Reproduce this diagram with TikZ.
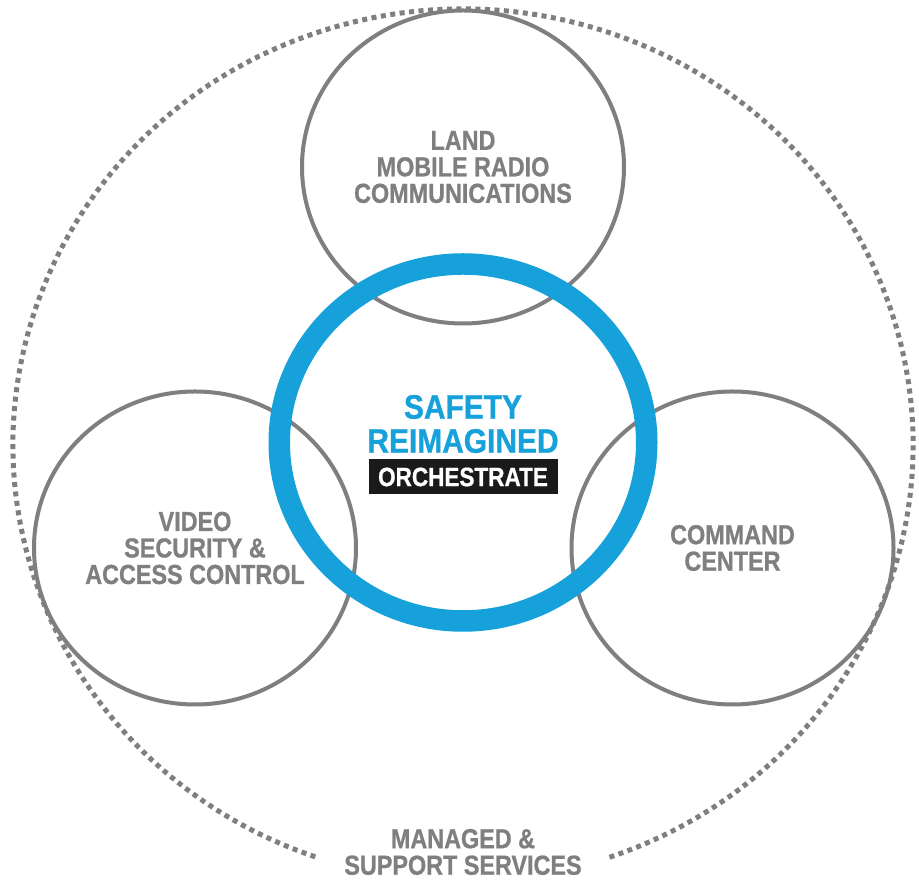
\documentclass[tikz,border=0pt]{standalone}
\usepackage{fontspec}
\newfontfamily\condfont[FakeStretch=0.85,FakeBold=0.8]{Liberation Sans}
\newfontfamily\bluefont[FakeStretch=0.88,FakeBold=0.8]{Liberation Sans}
\usetikzlibrary{shapes.geometric}
\definecolor{ringblue}{HTML}{17A1DB}
\definecolor{linegrey}{HTML}{7F7F7F}
\definecolor{boxblack}{HTML}{1A1A1A}
\begin{document}
\begin{tikzpicture}[x=1pt,y=1pt,
  area/.style={ellipse, draw=linegrey, line width=4pt, inner sep=0pt,
    minimum width=322pt, minimum height=313pt, text=linegrey,
    font=\condfont\bfseries\fontsize{27.5}{26.5}\selectfont, align=center},
  ringstyle/.style={ellipse, draw=ringblue, line width=21.5pt, inner sep=0pt,
    minimum width=367.5pt, minimum height=357pt},
  dotline/.style={draw=linegrey, line width=5pt, dash pattern=on 5pt off 4.5pt},
  bluetext/.style={text=ringblue, font=\bluefont\bfseries\fontsize{34}{34}\selectfont, align=center, inner sep=0pt},
  orchbox/.style={fill=boxblack, text=white, font=\condfont\bfseries\fontsize{26.5}{26.5}\selectfont,
    minimum width=189pt, minimum height=35pt, inner sep=0pt},
  greytext/.style={text=linegrey, font=\condfont\bfseries\fontsize{27.5}{26.5}\selectfont, align=center, inner sep=0pt}
]
\useasboundingbox (0,0) rectangle (919,880);
\fill[white] (0,0) rectangle (919,880);
\coordinate (oc) at (463,435);
\draw[dotline] (oc) ++(289:450 and 436) arc[start angle=289, end angle=611, x radius=450, y radius=436];

\node[area] (lmr) at (463,713) {LAND\\MOBILE RADIO\\COMMUNICATIONS};
\node[area] (video) at (195,332) {VIDEO\\SECURITY \&\\ACCESS CONTROL};
\node[area] (cmd) at (732.5,332) {COMMAND\\CENTER};

\node[ringstyle] (ring) at (463,437.5) {};

\node[bluetext] (safety) at (463,456) {SAFETY\\REIMAGINED};
\node[orchbox] (orch) at (463,403) {ORCHESTRATE};

\node[greytext] (managed) at (463,28) {MANAGED \&\\SUPPORT SERVICES};
\end{tikzpicture}
\end{document}
